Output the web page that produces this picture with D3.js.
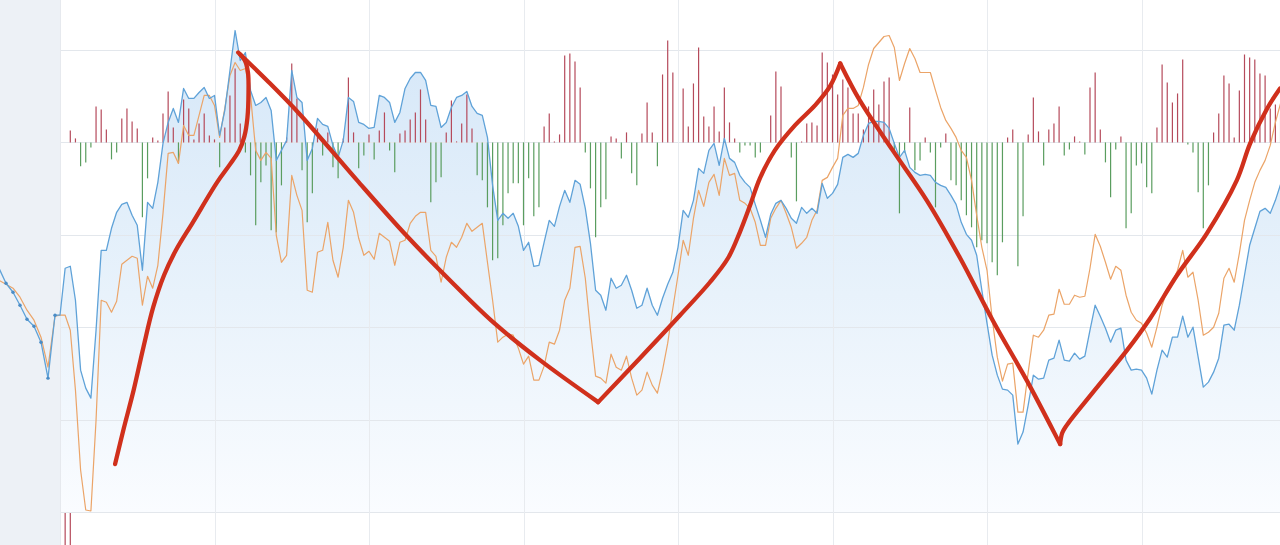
<!DOCTYPE html>
<html>
<head>
<meta charset="utf-8">
<script src="https://cdn.jsdelivr.net/npm/d3@7"></script>
<style>
html,body{margin:0;padding:0;background:#fff;overflow:hidden;}
svg{display:block;}
</style>
</head>
<body>
<svg id="chart" width="1280" height="545"></svg>
<script>
// ---------- DATA (units: baseline 0 = zero line) ----------
const blueMain = [
 -173,-126,-124,-158,-228,-246,-256,-188,-108,-108,
 -86,-70,-62,-60,-73,-83,-128,-60,-66,-40,
 -1,20,34,20,54,44,44,50,55,44,
 47,7,32,72,112,82,90,52,37,40,
 45,32,-18,-8,2,72,45,40,-18,-6,
 24,18,16,-3,-15,2,45,41,20,18,
 14,15,47,45,40,20,30,54,64,70,
 70,62,37,36,15,20,35,45,47,51,
 36,29,27,5,-43,-78,-71,-76,-71,-84,
 -108,-100,-124,-123,-100,-78,-84,-64,-48,-60,
 -38,-42,-66,-101,-148,-153,-168,-136,-146,-143,
 -133,-148,-166,-163,-146,-163,-173,-156,-142,-130,
 -105,-68,-75,-58,-26,-31,-8,-1,-23,4,
 -16,-20,-33,-40,-45,-62,-78,-95,-72,-61,
 -58,-66,-76,-81,-65,-71,-66,-71,-41,-56,
 -51,-42,-15,-12,-15,-11,7,19,21,21,
 20,14,-1,-15,-8,-25,-30,-33,-32,-33,
 -40,-43,-45,-53,-62,-80,-92,-98,-113,-148,
 -181,-213,-233,-247,-248,-253,-302,-290,-263,-233,
 -237,-236,-218,-216,-198,-218,-219,-211,-217,-214,
 -188,-163,-174,-186,-200,-188,-186,-218,-228,-227,
 -228,-236,-252,-228,-208,-215,-195,-195,-174,-195,
 -185,-215,-245,-240,-230,-216,-183,-182,-188,-163,
 -133,-103,-86,-69,-66,-71,-58,-42
];
const orangeMain = [
 -173,-173,-188,-248,-328,-368,-369,-278,-158,-160,
 -170,-159,-122,-118,-114,-116,-163,-134,-146,-123,
 -71,-11,-10,-21,17,7,7,27,47,47,
 37,5,34,67,80,72,74,47,-8,-18,
 -10,-16,-93,-120,-113,-33,-53,-68,-148,-150,
 -110,-108,-80,-118,-135,-105,-58,-70,-96,-113,
 -109,-117,-91,-95,-99,-123,-100,-98,-81,-74,
 -70,-70,-108,-114,-140,-115,-100,-105,-95,-81,
 -89,-85,-81,-120,-158,-200,-195,-192,-193,-206,
 -222,-214,-238,-238,-224,-200,-202,-188,-158,-146,
 -105,-104,-136,-188,-234,-236,-241,-212,-225,-228,
 -214,-236,-253,-248,-230,-243,-251,-228,-201,-166,
 -133,-98,-113,-76,-48,-64,-40,-32,-53,-16,
 -33,-31,-58,-61,-66,-80,-103,-103,-76,-66,
 -58,-71,-85,-106,-101,-95,-78,-68,-38,-35,
 -25,-16,27,34,34,37,55,78,94,100,
 106,107,95,62,79,94,84,70,70,70,
 52,35,22,14,5,-8,-15,-38,-73,-105,
 -128,-176,-215,-239,-222,-221,-270,-270,-230,-193,
 -195,-188,-173,-172,-147,-162,-162,-153,-155,-154,
 -126,-92,-104,-120,-137,-124,-128,-153,-170,-178,
 -181,-191,-205,-185,-163,-148,-140,-128,-108,-135,
 -130,-158,-193,-190,-185,-171,-136,-126,-140,-111,
 -78,-58,-40,-28,-18,-3,20,39
];
const bars = [
 0,0,12,4,-24,-20,-5,36,33,13,
 -17,-10,24,34,21,14,-75,-36,5,2,
 29,51,15,-21,43,34,3,19,29,7,
 3,-25,15,47,74,19,-10,-33,-83,-40,
 -23,-88,-90,-43,5,79,44,-28,-80,-51,
 14,-13,10,-25,-36,4,65,10,-26,-13,
 8,-17,12,30,-8,-30,9,12,23,30,
 53,23,-60,-40,-35,10,42,1,19,48,
 14,-33,-38,-65,-118,-116,-83,-51,-41,-41,
 -83,-36,-74,-65,16,29,1,8,87,89,
 81,55,-10,-46,-95,-65,-57,6,4,-16,
 10,-31,-43,9,40,10,-24,68,102,70,
 0,54,16,59,95,26,16,36,11,55,
 20,4,-10,-3,-3,-15,-10,0,27,71,
 56,0,-15,-59,1,19,20,17,90,80,
 68,48,63,55,29,29,13,36,53,38,
 61,65,-10,-71,-10,35,-28,-18,5,-10,
 -65,-5,9,-38,-43,-58,-73,-85,-105,-98,
 -101,-120,-133,-100,5,13,-124,-74,8,45,
 11,-23,13,19,36,-13,-7,6,1,-12,
 55,70,13,-20,-55,-7,6,-86,-71,-23,
 -21,-45,-51,15,78,60,40,49,83,-2,
 -10,-50,-86,-43,10,29,67,59,5,52,
 88,85,83,69,67,34,38,28
];
// earlier session shown in the grey panel
const bluePre = [-126,-141,-150,-163,-177,-184,-200,-236,-173];
const orangePre = [-138,-142,-146,-155,-168,-178,-195,-225,-174];
// lower panel (volume) bars visible at the bottom edge
const lowerVolume = [{i:1, v:40},{i:2, v:40}];
// hand-drawn red trend annotation: [index, value]
const trendRise = [[10.7,-322],[12.4,-286],[14.3,-248],[16.2,-205],[18.1,-165],[20.2,-133],[22.5,-108],[25.8,-80],[30.5,-40],[33.0,-22],[34.8,-8],[35.8,6],[36.4,25],[36.6,50],[36.5,70],[35.9,82],[35.0,88]];
const trendDown1 = [[34.6,90],[40.2,62],[46.6,28],[57.7,-38],[67.4,-94],[75.7,-138],[84.1,-180],[93.2,-218],[104.5,-260]];
const trendUp1 = [[104.5,-260],[112.6,-216],[120.4,-173],[126.2,-140],[129.7,-116],[132.0,-90],[134.0,-63],[135.9,-36],[138.8,-8],[142.7,17],[146.6,37],[149.5,56],[151.5,79]];
const trendDown2 = [[151.5,79],[155.3,42],[161.7,-8],[168.3,-58],[174.8,-116],[181.2,-179],[187.8,-239],[193.8,-298],[194.2,-302]];
const trendUp2 = [[194.2,-302],[194.6,-291],[195.5,-283],[200.6,-250],[207.2,-208],[211.7,-176],[216.9,-133],[222.7,-91],[228.5,-38],[231.1,-1],[234.4,34],[236.9,54]];
const gridValues = [-370,-277.5,-185,-92.5,0,92.5];
const gridIndices = [30,60,90,120,150,180,210];

// ---------- SCALES ----------
const W = 1280, H = 545;
const x = d3.scaleLinear().domain([0,30]).range([60,214.5]);
const xPre = d3.scaleLinear().domain([0,8]).range([-1,55]);
const y = d3.scaleLinear().domain([-370,92.5]).range([512,50]);
const volY = d3.scaleLinear().domain([0,40]).range([513,548]);

const svg = d3.select('#chart');
const defs = svg.append('defs');
const grad = defs.append('linearGradient').attr('id','areaGrad')
  .attr('gradientUnits','userSpaceOnUse').attr('x1',0).attr('x2',0)
  .attr('y1',y(115)).attr('y2',y(-370));
grad.append('stop').attr('offset',0).attr('stop-color','#d5e7f8');
grad.append('stop').attr('offset',0.55).attr('stop-color','#e8f2fb');
grad.append('stop').attr('offset',1).attr('stop-color','#fafcff');

svg.append('rect').attr('width',W).attr('height',H).attr('fill','#ffffff');
svg.append('rect').attr('x',0).attr('y',0).attr('width',x(0)).attr('height',H).attr('fill','#edf1f6');

const idx = d3.range(blueMain.length);

// area under the blue line
svg.append('path')
  .attr('d', d3.area().x(i=>x(i)).y0(y(-370)).y1(i=>y(blueMain[i]))(idx))
  .attr('fill','url(#areaGrad)');

// grid
svg.append('g').selectAll('line').data(gridValues).join('line')
  .attr('x1',x(0)).attr('x2',W).attr('y1',d=>Math.round(y(d))+0.5).attr('y2',d=>Math.round(y(d))+0.5)
  .attr('stroke','#e3e7ec').attr('stroke-width',1);
svg.append('g').selectAll('line').data(gridIndices).join('line')
  .attr('y1',0).attr('y2',H).attr('x1',d=>Math.round(x(d))+0.5).attr('x2',d=>Math.round(x(d))+0.5)
  .attr('stroke','#e8ebef').attr('stroke-width',1);
svg.append('line').attr('x1',x(0)+0.5).attr('x2',x(0)+0.5).attr('y1',0).attr('y2',H)
  .attr('stroke','#e6e9ee');

// histogram bars
svg.append('g').selectAll('line').data(bars.map((v,i)=>({i,v})).filter(d=>d.v!==0)).join('line')
  .attr('x1',d=>x(d.i)).attr('x2',d=>x(d.i))
  .attr('y1',y(0)).attr('y2',d=>y(d.v))
  .attr('stroke',d=>d.v>0?'#b54a5b':'#5a9d5f')
  .attr('stroke-width',1.2);

// lower volume bars
svg.append('g').selectAll('line').data(lowerVolume).join('line')
  .attr('x1',d=>x(d.i)).attr('x2',d=>x(d.i))
  .attr('y1',volY(0)).attr('y2',d=>volY(d.v))
  .attr('stroke','#b54a5b').attr('stroke-width',1.2);

const lineGen = d3.line();
// orange line (pre + main)
const orangePts = orangePre.map((v,i)=>[xPre(i),y(v)]).concat(orangeMain.map((v,i)=>[x(i),y(v)]));
svg.append('path').attr('d',lineGen(orangePts)).attr('fill','none')
  .attr('stroke','#eba468').attr('stroke-width',1.2).attr('stroke-linejoin','round');

// blue line
const bluePrePts = bluePre.map((v,i)=>[xPre(i),y(v)]);
const blueMainPts = blueMain.map((v,i)=>[x(i),y(v)]);
svg.append('path').attr('d',lineGen(bluePrePts.concat(blueMainPts))).attr('fill','none')
  .attr('stroke','#5fa2d8').attr('stroke-width',1.3).attr('stroke-linejoin','round');
svg.append('g').selectAll('circle').data(bluePrePts.slice(1)).join('circle')
  .attr('cx',d=>d[0]).attr('cy',d=>d[1]).attr('r',1.7).attr('fill','#4a8cc6');

// red hand-drawn annotation
const trendGen = d3.line().x(d=>x(d[0])).y(d=>y(d[1])).curve(d3.curveCatmullRom.alpha(0.5));
[trendRise, trendDown1, trendUp1, trendDown2, trendUp2].forEach(seg=>{
  svg.append('path').attr('d',trendGen(seg)).attr('fill','none')
    .attr('stroke','#d0301c').attr('stroke-width',4.3)
    .attr('stroke-linecap','round').attr('stroke-linejoin','round');
});
</script>
</body>
</html>
